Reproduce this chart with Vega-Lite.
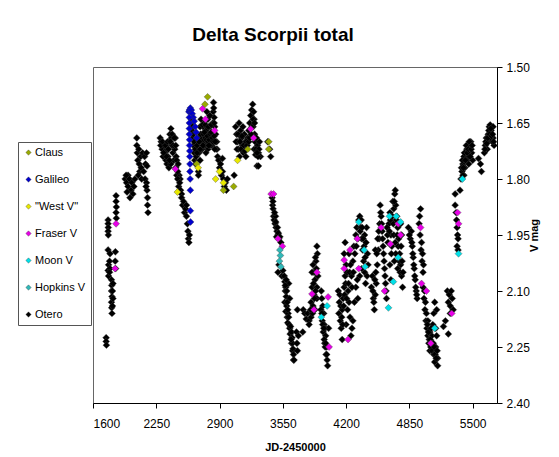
{
"$schema": "https://vega.github.io/schema/vega-lite/v6.json",
"width": 404, "height": 336,
"autosize": {"type": "none"},
"padding": {"left": 93, "top": 67, "right": 62, "bottom": 54},
"background": "white",
"title": {"text": "Delta Scorpii total", "font": "Liberation Sans", "fontSize": 19, "fontWeight": "bold", "color": "#000", "anchor": "middle", "dx": -22, "offset": 16},
"config": {"view": {"stroke": "#666", "strokeWidth": 1}, "font": "Liberation Sans"},
"data": {"values": [
{"jd":1735,"mag":2.225,"obs":"Otero"},{"jd":1735,"mag":2.235,"obs":"Otero"},{"jd":1738,"mag":2.245,"obs":"Otero"},
{"jd":1755,"mag":1.91,"obs":"Otero"},{"jd":1755,"mag":1.92,"obs":"Otero"},{"jd":1757,"mag":1.93,"obs":"Otero"},{"jd":1755,"mag":1.94,"obs":"Otero"},{"jd":1757,"mag":1.95,"obs":"Otero"},
{"jd":1755,"mag":1.99,"obs":"Otero"},{"jd":1760,"mag":2.03,"obs":"Otero"},{"jd":1755,"mag":2.045,"obs":"Otero"},{"jd":1760,"mag":2.06,"obs":"Otero"},
{"jd":1775,"mag":2.0,"obs":"Otero"},{"jd":1770,"mag":2.02,"obs":"Otero"},{"jd":1775,"mag":2.04,"obs":"Otero"},{"jd":1770,"mag":2.05,"obs":"Otero"},
{"jd":1790,"mag":2.07,"obs":"Otero"},{"jd":1792,"mag":2.085,"obs":"Otero"},{"jd":1790,"mag":2.1,"obs":"Otero"},{"jd":1795,"mag":2.115,"obs":"Otero"},{"jd":1790,"mag":2.13,"obs":"Otero"},{"jd":1792,"mag":2.145,"obs":"Otero"},{"jd":1795,"mag":2.16,"obs":"Otero"},
{"jd":1805,"mag":2.08,"obs":"Otero"},{"jd":1800,"mag":2.1,"obs":"Otero"},{"jd":1805,"mag":2.12,"obs":"Otero"},{"jd":1800,"mag":2.14,"obs":"Otero"},
{"jd":1830,"mag":1.995,"obs":"Otero"},{"jd":1828,"mag":2.02,"obs":"Otero"},{"jd":1832,"mag":2.04,"obs":"Otero"},
{"jd":1837,"mag":1.845,"obs":"Otero"},{"jd":1837,"mag":1.86,"obs":"Otero"},{"jd":1840,"mag":1.875,"obs":"Otero"},{"jd":1837,"mag":1.89,"obs":"Otero"},{"jd":1840,"mag":1.905,"obs":"Otero"},
{"jd":1930,"mag":1.8,"obs":"Otero"},{"jd":1945,"mag":1.81,"obs":"Otero"},{"jd":1960,"mag":1.79,"obs":"Otero"},{"jd":1960,"mag":1.82,"obs":"Otero"},{"jd":1975,"mag":1.8,"obs":"Otero"},{"jd":1990,"mag":1.83,"obs":"Otero"},{"jd":2000,"mag":1.81,"obs":"Otero"},{"jd":2010,"mag":1.84,"obs":"Otero"},{"jd":2020,"mag":1.82,"obs":"Otero"},{"jd":1950,"mag":1.835,"obs":"Otero"},{"jd":1980,"mag":1.85,"obs":"Otero"},{"jd":2030,"mag":1.8,"obs":"Otero"},{"jd":1940,"mag":1.79,"obs":"Otero"},
{"jd":2050,"mag":1.69,"obs":"Otero"},{"jd":2050,"mag":1.71,"obs":"Otero"},{"jd":2055,"mag":1.73,"obs":"Otero"},{"jd":2060,"mag":1.75,"obs":"Otero"},{"jd":2070,"mag":1.72,"obs":"Otero"},{"jd":2075,"mag":1.76,"obs":"Otero"},{"jd":2080,"mag":1.78,"obs":"Otero"},{"jd":2090,"mag":1.74,"obs":"Otero"},{"jd":2095,"mag":1.77,"obs":"Otero"},{"jd":2100,"mag":1.8,"obs":"Otero"},{"jd":2065,"mag":1.79,"obs":"Otero"},
{"jd":2110,"mag":1.73,"obs":"Otero"},{"jd":2130,"mag":1.74,"obs":"Otero"},{"jd":2150,"mag":1.73,"obs":"Otero"},{"jd":2140,"mag":1.76,"obs":"Otero"},{"jd":2155,"mag":1.765,"obs":"Otero"},{"jd":2120,"mag":1.78,"obs":"Otero"},{"jd":2135,"mag":1.8,"obs":"Otero"},
{"jd":2150,"mag":1.81,"obs":"Otero"},{"jd":2155,"mag":1.83,"obs":"Otero"},{"jd":2160,"mag":1.85,"obs":"Otero"},{"jd":2160,"mag":1.87,"obs":"Otero"},{"jd":2165,"mag":1.89,"obs":"Otero"},{"jd":2145,"mag":1.82,"obs":"Otero"},
{"jd":2290,"mag":1.69,"obs":"Otero"},{"jd":2300,"mag":1.7,"obs":"Otero"},{"jd":2310,"mag":1.72,"obs":"Otero"},{"jd":2320,"mag":1.74,"obs":"Otero"},{"jd":2330,"mag":1.71,"obs":"Otero"},{"jd":2340,"mag":1.73,"obs":"Otero"},{"jd":2350,"mag":1.75,"obs":"Otero"},{"jd":2360,"mag":1.72,"obs":"Otero"},{"jd":2370,"mag":1.74,"obs":"Otero"},{"jd":2380,"mag":1.7,"obs":"Otero"},{"jd":2390,"mag":1.68,"obs":"Otero"},{"jd":2400,"mag":1.665,"obs":"Otero"},{"jd":2405,"mag":1.69,"obs":"Otero"},{"jd":2410,"mag":1.71,"obs":"Otero"},{"jd":2420,"mag":1.73,"obs":"Otero"},{"jd":2430,"mag":1.75,"obs":"Otero"},{"jd":2440,"mag":1.72,"obs":"Otero"},{"jd":2445,"mag":1.69,"obs":"Otero"},{"jd":2455,"mag":1.74,"obs":"Otero"},{"jd":2360,"mag":1.76,"obs":"Otero"},{"jd":2380,"mag":1.77,"obs":"Otero"},{"jd":2400,"mag":1.76,"obs":"Otero"},{"jd":2415,"mag":1.68,"obs":"Otero"},
{"jd":2295,"mag":1.71,"obs":"Otero"},{"jd":2315,"mag":1.7,"obs":"Otero"},{"jd":2325,"mag":1.73,"obs":"Otero"},{"jd":2345,"mag":1.71,"obs":"Otero"},{"jd":2355,"mag":1.74,"obs":"Otero"},{"jd":2365,"mag":1.7,"obs":"Otero"},{"jd":2375,"mag":1.72,"obs":"Otero"},{"jd":2385,"mag":1.75,"obs":"Otero"},{"jd":2395,"mag":1.7,"obs":"Otero"},{"jd":2425,"mag":1.71,"obs":"Otero"},{"jd":2435,"mag":1.69,"obs":"Otero"},{"jd":2450,"mag":1.71,"obs":"Otero"},{"jd":2460,"mag":1.75,"obs":"Otero"},{"jd":2475,"mag":1.76,"obs":"Otero"},{"jd":2485,"mag":1.79,"obs":"Otero"},{"jd":2495,"mag":1.8,"obs":"Otero"},
{"jd":2450,"mag":1.77,"obs":"Otero"},{"jd":2460,"mag":1.79,"obs":"Otero"},{"jd":2470,"mag":1.8,"obs":"Otero"},{"jd":2480,"mag":1.82,"obs":"Otero"},{"jd":2490,"mag":1.81,"obs":"Otero"},{"jd":2500,"mag":1.83,"obs":"Otero"},{"jd":2510,"mag":1.84,"obs":"Otero"},{"jd":2470,"mag":1.78,"obs":"Otero"},
{"jd":2510,"mag":1.85,"obs":"Otero"},{"jd":2520,"mag":1.87,"obs":"Otero"},{"jd":2530,"mag":1.86,"obs":"Otero"},{"jd":2540,"mag":1.89,"obs":"Otero"},{"jd":2550,"mag":1.88,"obs":"Otero"},{"jd":2560,"mag":1.9,"obs":"Otero"},{"jd":2570,"mag":1.92,"obs":"Otero"},{"jd":2575,"mag":1.94,"obs":"Otero"},{"jd":2580,"mag":1.96,"obs":"Otero"},{"jd":2590,"mag":1.95,"obs":"Otero"},{"jd":2585,"mag":1.97,"obs":"Otero"},{"jd":2560,"mag":1.87,"obs":"Otero"},
{"jd":2610,"mag":1.64,"obs":"Otero"},{"jd":2620,"mag":1.65,"obs":"Otero"},{"jd":2615,"mag":1.67,"obs":"Otero"},{"jd":2625,"mag":1.69,"obs":"Otero"},{"jd":2630,"mag":1.71,"obs":"Otero"},{"jd":2640,"mag":1.73,"obs":"Otero"},{"jd":2645,"mag":1.75,"obs":"Otero"},{"jd":2655,"mag":1.76,"obs":"Otero"},
{"jd":2620,"mag":1.66,"obs":"Otero"},{"jd":2630,"mag":1.68,"obs":"Otero"},{"jd":2640,"mag":1.7,"obs":"Otero"},{"jd":2650,"mag":1.72,"obs":"Otero"},{"jd":2660,"mag":1.74,"obs":"Otero"},{"jd":2670,"mag":1.71,"obs":"Otero"},{"jd":2680,"mag":1.69,"obs":"Otero"},{"jd":2690,"mag":1.73,"obs":"Otero"},{"jd":2700,"mag":1.75,"obs":"Otero"},{"jd":2683,"mag":1.78,"obs":"Otero"},{"jd":2683,"mag":1.79,"obs":"Otero"},{"jd":2710,"mag":1.7,"obs":"Otero"},{"jd":2720,"mag":1.68,"obs":"Otero"},{"jd":2730,"mag":1.66,"obs":"Otero"},{"jd":2740,"mag":1.69,"obs":"Otero"},{"jd":2750,"mag":1.71,"obs":"Otero"},{"jd":2760,"mag":1.67,"obs":"Otero"},{"jd":2770,"mag":1.7,"obs":"Otero"},{"jd":2780,"mag":1.72,"obs":"Otero"},{"jd":2790,"mag":1.68,"obs":"Otero"},{"jd":2800,"mag":1.66,"obs":"Otero"},{"jd":2810,"mag":1.69,"obs":"Otero"},{"jd":2820,"mag":1.71,"obs":"Otero"},{"jd":2830,"mag":1.65,"obs":"Otero"},{"jd":2835,"mag":1.62,"obs":"Otero"},{"jd":2838,"mag":1.595,"obs":"Otero"},{"jd":2840,"mag":1.61,"obs":"Otero"},{"jd":2845,"mag":1.635,"obs":"Otero"},{"jd":2850,"mag":1.66,"obs":"Otero"},{"jd":2860,"mag":1.68,"obs":"Otero"},{"jd":2870,"mag":1.7,"obs":"Otero"},{"jd":2875,"mag":1.72,"obs":"Otero"},{"jd":2880,"mag":1.74,"obs":"Otero"},{"jd":2720,"mag":1.72,"obs":"Otero"},{"jd":2760,"mag":1.73,"obs":"Otero"},{"jd":2800,"mag":1.71,"obs":"Otero"},{"jd":2740,"mag":1.65,"obs":"Otero"},{"jd":2780,"mag":1.64,"obs":"Otero"},{"jd":2700,"mag":1.66,"obs":"Otero"},{"jd":2710,"mag":1.64,"obs":"Otero"},{"jd":2770,"mag":1.62,"obs":"Otero"},{"jd":2800,"mag":1.63,"obs":"Otero"},
{"jd":2705,"mag":1.68,"obs":"Otero"},{"jd":2715,"mag":1.695,"obs":"Otero"},{"jd":2725,"mag":1.7,"obs":"Otero"},{"jd":2735,"mag":1.68,"obs":"Otero"},{"jd":2745,"mag":1.675,"obs":"Otero"},{"jd":2755,"mag":1.69,"obs":"Otero"},{"jd":2765,"mag":1.695,"obs":"Otero"},{"jd":2775,"mag":1.685,"obs":"Otero"},{"jd":2785,"mag":1.7,"obs":"Otero"},{"jd":2795,"mag":1.695,"obs":"Otero"},{"jd":2805,"mag":1.68,"obs":"Otero"},{"jd":2815,"mag":1.675,"obs":"Otero"},{"jd":2825,"mag":1.69,"obs":"Otero"},{"jd":2835,"mag":1.7,"obs":"Otero"},{"jd":2845,"mag":1.685,"obs":"Otero"},{"jd":2855,"mag":1.7,"obs":"Otero"},{"jd":2865,"mag":1.72,"obs":"Otero"},{"jd":2725,"mag":1.655,"obs":"Otero"},{"jd":2755,"mag":1.655,"obs":"Otero"},{"jd":2785,"mag":1.66,"obs":"Otero"},{"jd":2815,"mag":1.655,"obs":"Otero"},{"jd":2845,"mag":1.65,"obs":"Otero"},{"jd":2690,"mag":1.7,"obs":"Otero"},{"jd":2670,"mag":1.73,"obs":"Otero"},{"jd":2700,"mag":1.72,"obs":"Otero"},{"jd":2730,"mag":1.71,"obs":"Otero"},{"jd":2790,"mag":1.71,"obs":"Otero"},{"jd":2850,"mag":1.72,"obs":"Otero"},
{"jd":2890,"mag":1.75,"obs":"Otero"},{"jd":2900,"mag":1.77,"obs":"Otero"},{"jd":2910,"mag":1.76,"obs":"Otero"},{"jd":2920,"mag":1.79,"obs":"Otero"},{"jd":2930,"mag":1.78,"obs":"Otero"},{"jd":2940,"mag":1.8,"obs":"Otero"},{"jd":2950,"mag":1.82,"obs":"Otero"},{"jd":2960,"mag":1.81,"obs":"Otero"},{"jd":2970,"mag":1.83,"obs":"Otero"},{"jd":2980,"mag":1.8,"obs":"Otero"},{"jd":2930,"mag":1.745,"obs":"Otero"},
{"jd":3050,"mag":1.79,"obs":"Otero"},
{"jd":3065,"mag":1.66,"obs":"Otero"},{"jd":3075,"mag":1.68,"obs":"Otero"},{"jd":3085,"mag":1.7,"obs":"Otero"},{"jd":3095,"mag":1.72,"obs":"Otero"},{"jd":3105,"mag":1.74,"obs":"Otero"},{"jd":3115,"mag":1.67,"obs":"Otero"},{"jd":3125,"mag":1.69,"obs":"Otero"},{"jd":3135,"mag":1.71,"obs":"Otero"},{"jd":3145,"mag":1.73,"obs":"Otero"},{"jd":3155,"mag":1.68,"obs":"Otero"},{"jd":3165,"mag":1.7,"obs":"Otero"},{"jd":3170,"mag":1.74,"obs":"Otero"},{"jd":3180,"mag":1.72,"obs":"Otero"},{"jd":3190,"mag":1.69,"obs":"Otero"},{"jd":3200,"mag":1.67,"obs":"Otero"},{"jd":3210,"mag":1.65,"obs":"Otero"},{"jd":3220,"mag":1.63,"obs":"Otero"},{"jd":3230,"mag":1.615,"obs":"Otero"},{"jd":3240,"mag":1.6,"obs":"Otero"},{"jd":3250,"mag":1.62,"obs":"Otero"},{"jd":3255,"mag":1.64,"obs":"Otero"},{"jd":3245,"mag":1.66,"obs":"Otero"},{"jd":3260,"mag":1.68,"obs":"Otero"},{"jd":3265,"mag":1.7,"obs":"Otero"},{"jd":3255,"mag":1.72,"obs":"Otero"},{"jd":3270,"mag":1.735,"obs":"Otero"},{"jd":3280,"mag":1.69,"obs":"Otero"},{"jd":3290,"mag":1.71,"obs":"Otero"},{"jd":3300,"mag":1.73,"obs":"Otero"},{"jd":3310,"mag":1.7,"obs":"Otero"},{"jd":3320,"mag":1.74,"obs":"Otero"},{"jd":3100,"mag":1.65,"obs":"Otero"},
{"jd":3070,"mag":1.7,"obs":"Otero"},{"jd":3080,"mag":1.72,"obs":"Otero"},{"jd":3090,"mag":1.68,"obs":"Otero"},{"jd":3110,"mag":1.7,"obs":"Otero"},{"jd":3120,"mag":1.72,"obs":"Otero"},{"jd":3130,"mag":1.685,"obs":"Otero"},{"jd":3140,"mag":1.66,"obs":"Otero"},{"jd":3150,"mag":1.71,"obs":"Otero"},{"jd":3160,"mag":1.725,"obs":"Otero"},{"jd":3175,"mag":1.7,"obs":"Otero"},{"jd":3185,"mag":1.71,"obs":"Otero"},{"jd":3200,"mag":1.7,"obs":"Otero"},{"jd":3210,"mag":1.69,"obs":"Otero"},{"jd":3225,"mag":1.68,"obs":"Otero"},{"jd":3235,"mag":1.66,"obs":"Otero"},{"jd":3245,"mag":1.64,"obs":"Otero"},{"jd":3260,"mag":1.65,"obs":"Otero"},{"jd":3275,"mag":1.72,"obs":"Otero"},{"jd":3295,"mag":1.74,"obs":"Otero"},{"jd":3305,"mag":1.72,"obs":"Otero"},{"jd":3285,"mag":1.73,"obs":"Otero"},
{"jd":3285,"mag":1.765,"obs":"Otero"},{"jd":3300,"mag":1.765,"obs":"Otero"},{"jd":3395,"mag":1.7,"obs":"Otero"},{"jd":3425,"mag":1.74,"obs":"Otero"},{"jd":3415,"mag":1.72,"obs":"Otero"},
{"jd":3440,"mag":1.85,"obs":"Otero"},{"jd":3445,"mag":1.87,"obs":"Otero"},{"jd":3450,"mag":1.88,"obs":"Otero"},{"jd":3455,"mag":1.9,"obs":"Otero"},{"jd":3460,"mag":1.91,"obs":"Otero"},{"jd":3470,"mag":1.92,"obs":"Otero"},{"jd":3480,"mag":1.93,"obs":"Otero"},{"jd":3490,"mag":1.94,"obs":"Otero"},{"jd":3500,"mag":1.95,"obs":"Otero"},{"jd":3510,"mag":1.96,"obs":"Otero"},{"jd":3475,"mag":1.9,"obs":"Otero"},{"jd":3485,"mag":1.955,"obs":"Otero"},{"jd":3530,"mag":1.97,"obs":"Otero"},{"jd":3510,"mag":2.03,"obs":"Otero"},{"jd":3500,"mag":2.05,"obs":"Otero"},
{"jd":3448,"mag":1.86,"obs":"Otero"},{"jd":3465,"mag":1.89,"obs":"Otero"},{"jd":3478,"mag":1.915,"obs":"Otero"},{"jd":3495,"mag":1.93,"obs":"Otero"},{"jd":3505,"mag":1.945,"obs":"Otero"},{"jd":3520,"mag":1.955,"obs":"Otero"},{"jd":3540,"mag":2.06,"obs":"Otero"},{"jd":3550,"mag":2.045,"obs":"Otero"},
{"jd":3565,"mag":2.06,"obs":"Otero"},{"jd":3570,"mag":2.075,"obs":"Otero"},{"jd":3580,"mag":2.09,"obs":"Otero"},{"jd":3575,"mag":2.1,"obs":"Otero"},{"jd":3585,"mag":2.115,"obs":"Otero"},{"jd":3570,"mag":2.13,"obs":"Otero"},{"jd":3590,"mag":2.14,"obs":"Otero"},{"jd":3580,"mag":2.155,"obs":"Otero"},{"jd":3595,"mag":2.17,"obs":"Otero"},{"jd":3600,"mag":2.185,"obs":"Otero"},{"jd":3610,"mag":2.08,"obs":"Otero"},{"jd":3620,"mag":2.12,"obs":"Otero"},{"jd":3605,"mag":2.16,"obs":"Otero"},
{"jd":3575,"mag":2.085,"obs":"Otero"},{"jd":3585,"mag":2.07,"obs":"Otero"},{"jd":3590,"mag":2.1,"obs":"Otero"},{"jd":3595,"mag":2.13,"obs":"Otero"},{"jd":3600,"mag":2.15,"obs":"Otero"},{"jd":3610,"mag":2.17,"obs":"Otero"},{"jd":3615,"mag":2.19,"obs":"Otero"},{"jd":3620,"mag":2.2,"obs":"Otero"},{"jd":3625,"mag":2.215,"obs":"Otero"},{"jd":3640,"mag":2.24,"obs":"Otero"},{"jd":3650,"mag":2.26,"obs":"Otero"},{"jd":3660,"mag":2.285,"obs":"Otero"},
{"jd":3630,"mag":2.195,"obs":"Otero"},{"jd":3640,"mag":2.21,"obs":"Otero"},{"jd":3645,"mag":2.225,"obs":"Otero"},{"jd":3650,"mag":2.24,"obs":"Otero"},{"jd":3655,"mag":2.255,"obs":"Otero"},{"jd":3660,"mag":2.27,"obs":"Otero"},{"jd":3665,"mag":2.285,"obs":"Otero"},{"jd":3635,"mag":2.23,"obs":"Otero"},
{"jd":3700,"mag":2.15,"obs":"Otero"},{"jd":3690,"mag":2.21,"obs":"Otero"},{"jd":3695,"mag":2.24,"obs":"Otero"},{"jd":3700,"mag":2.26,"obs":"Otero"},{"jd":3710,"mag":2.22,"obs":"Otero"},
{"jd":3760,"mag":2.15,"obs":"Otero"},{"jd":3775,"mag":2.16,"obs":"Otero"},{"jd":3790,"mag":2.175,"obs":"Otero"},{"jd":3805,"mag":2.16,"obs":"Otero"},{"jd":3820,"mag":2.18,"obs":"Otero"},{"jd":3755,"mag":2.21,"obs":"Otero"},
{"jd":3900,"mag":1.98,"obs":"Otero"},{"jd":3905,"mag":2.0,"obs":"Otero"},{"jd":3890,"mag":2.02,"obs":"Otero"},{"jd":3860,"mag":2.03,"obs":"Otero"},{"jd":3870,"mag":2.05,"obs":"Otero"},{"jd":3880,"mag":2.07,"obs":"Otero"},{"jd":3850,"mag":2.09,"obs":"Otero"},{"jd":3900,"mag":2.09,"obs":"Otero"},{"jd":3870,"mag":2.11,"obs":"Otero"},{"jd":3840,"mag":2.13,"obs":"Otero"},{"jd":3860,"mag":2.14,"obs":"Otero"},{"jd":3880,"mag":2.15,"obs":"Otero"},{"jd":3840,"mag":2.17,"obs":"Otero"},{"jd":3820,"mag":2.19,"obs":"Otero"},{"jd":3900,"mag":2.12,"obs":"Otero"},{"jd":3910,"mag":2.06,"obs":"Otero"},
{"jd":3850,"mag":2.05,"obs":"Otero"},{"jd":3865,"mag":2.08,"obs":"Otero"},{"jd":3875,"mag":2.12,"obs":"Otero"},{"jd":3885,"mag":2.1,"obs":"Otero"},{"jd":3895,"mag":2.04,"obs":"Otero"},{"jd":3855,"mag":2.16,"obs":"Otero"},{"jd":3835,"mag":2.15,"obs":"Otero"},{"jd":3885,"mag":2.01,"obs":"Otero"},
{"jd":3945,"mag":2.1,"obs":"Otero"},{"jd":3950,"mag":2.12,"obs":"Otero"},{"jd":3960,"mag":2.14,"obs":"Otero"},{"jd":3970,"mag":2.16,"obs":"Otero"},{"jd":3955,"mag":2.18,"obs":"Otero"},{"jd":3975,"mag":2.19,"obs":"Otero"},{"jd":3985,"mag":2.2,"obs":"Otero"},{"jd":3965,"mag":2.21,"obs":"Otero"},{"jd":3990,"mag":2.22,"obs":"Otero"},{"jd":3980,"mag":2.24,"obs":"Otero"},{"jd":4000,"mag":2.25,"obs":"Otero"},{"jd":3995,"mag":2.27,"obs":"Otero"},{"jd":4005,"mag":2.285,"obs":"Otero"},{"jd":4010,"mag":2.3,"obs":"Otero"},{"jd":3940,"mag":2.15,"obs":"Otero"},{"jd":4020,"mag":2.2,"obs":"Otero"},
{"jd":3950,"mag":2.16,"obs":"Otero"},{"jd":3960,"mag":2.19,"obs":"Otero"},{"jd":3970,"mag":2.2,"obs":"Otero"},{"jd":3975,"mag":2.23,"obs":"Otero"},{"jd":3985,"mag":2.25,"obs":"Otero"},{"jd":3990,"mag":2.24,"obs":"Otero"},{"jd":4000,"mag":2.27,"obs":"Otero"},
{"jd":4120,"mag":2.1,"obs":"Otero"},{"jd":4130,"mag":2.13,"obs":"Otero"},{"jd":4125,"mag":2.16,"obs":"Otero"},{"jd":4140,"mag":2.18,"obs":"Otero"},{"jd":4150,"mag":2.2,"obs":"Otero"},{"jd":4160,"mag":2.15,"obs":"Otero"},{"jd":4170,"mag":2.12,"obs":"Otero"},{"jd":4180,"mag":2.09,"obs":"Otero"},{"jd":4190,"mag":2.06,"obs":"Otero"},{"jd":4200,"mag":2.03,"obs":"Otero"},{"jd":4180,"mag":2.0,"obs":"Otero"},{"jd":4190,"mag":1.97,"obs":"Otero"},{"jd":4210,"mag":2.05,"obs":"Otero"},{"jd":4220,"mag":2.1,"obs":"Otero"},{"jd":4230,"mag":2.13,"obs":"Otero"},{"jd":4240,"mag":2.17,"obs":"Otero"},{"jd":4250,"mag":2.22,"obs":"Otero"},{"jd":4255,"mag":2.06,"obs":"Otero"},{"jd":4270,"mag":2.02,"obs":"Otero"},{"jd":4280,"mag":1.98,"obs":"Otero"},{"jd":4300,"mag":1.95,"obs":"Otero"},{"jd":4310,"mag":1.93,"obs":"Otero"},{"jd":4330,"mag":1.91,"obs":"Otero"},{"jd":4340,"mag":1.9,"obs":"Otero"},{"jd":4350,"mag":1.93,"obs":"Otero"},{"jd":4360,"mag":1.96,"obs":"Otero"},{"jd":4370,"mag":1.99,"obs":"Otero"},{"jd":4380,"mag":2.02,"obs":"Otero"},{"jd":4390,"mag":2.05,"obs":"Otero"},{"jd":4400,"mag":2.08,"obs":"Otero"},{"jd":4390,"mag":1.95,"obs":"Otero"},{"jd":4410,"mag":1.93,"obs":"Otero"},{"jd":4420,"mag":2.0,"obs":"Otero"},{"jd":4425,"mag":2.03,"obs":"Otero"},{"jd":4300,"mag":2.09,"obs":"Otero"},{"jd":4320,"mag":2.12,"obs":"Otero"},{"jd":4340,"mag":2.06,"obs":"Otero"},{"jd":4360,"mag":2.04,"obs":"Otero"},{"jd":4230,"mag":2.0,"obs":"Otero"},{"jd":4270,"mag":2.18,"obs":"Otero"},{"jd":4160,"mag":2.23,"obs":"Otero"},{"jd":4200,"mag":2.19,"obs":"Otero"},
{"jd":4135,"mag":2.11,"obs":"Otero"},{"jd":4145,"mag":2.14,"obs":"Otero"},{"jd":4155,"mag":2.17,"obs":"Otero"},{"jd":4165,"mag":2.19,"obs":"Otero"},{"jd":4175,"mag":2.14,"obs":"Otero"},{"jd":4185,"mag":2.11,"obs":"Otero"},{"jd":4195,"mag":2.08,"obs":"Otero"},{"jd":4205,"mag":2.12,"obs":"Otero"},{"jd":4215,"mag":2.15,"obs":"Otero"},{"jd":4225,"mag":2.08,"obs":"Otero"},{"jd":4235,"mag":2.05,"obs":"Otero"},{"jd":4245,"mag":2.03,"obs":"Otero"},{"jd":4260,"mag":2.09,"obs":"Otero"},{"jd":4275,"mag":2.05,"obs":"Otero"},{"jd":4290,"mag":2.0,"obs":"Otero"},{"jd":4305,"mag":1.98,"obs":"Otero"},{"jd":4320,"mag":1.96,"obs":"Otero"},{"jd":4345,"mag":1.94,"obs":"Otero"},{"jd":4355,"mag":1.91,"obs":"Otero"},{"jd":4365,"mag":1.93,"obs":"Otero"},{"jd":4375,"mag":1.96,"obs":"Otero"},{"jd":4385,"mag":1.98,"obs":"Otero"},{"jd":4395,"mag":2.01,"obs":"Otero"},{"jd":4405,"mag":1.97,"obs":"Otero"},{"jd":4415,"mag":2.06,"obs":"Otero"},{"jd":4315,"mag":2.07,"obs":"Otero"},{"jd":4285,"mag":2.13,"obs":"Otero"},{"jd":4260,"mag":2.2,"obs":"Otero"},
{"jd":4460,"mag":2.09,"obs":"Otero"},{"jd":4470,"mag":2.06,"obs":"Otero"},{"jd":4480,"mag":2.12,"obs":"Otero"},{"jd":4490,"mag":2.15,"obs":"Otero"},{"jd":4500,"mag":2.11,"obs":"Otero"},{"jd":4510,"mag":2.08,"obs":"Otero"},{"jd":4520,"mag":2.03,"obs":"Otero"},{"jd":4530,"mag":1.99,"obs":"Otero"},{"jd":4540,"mag":1.96,"obs":"Otero"},{"jd":4545,"mag":1.92,"obs":"Otero"},{"jd":4550,"mag":1.87,"obs":"Otero"},{"jd":4560,"mag":1.9,"obs":"Otero"},{"jd":4570,"mag":1.94,"obs":"Otero"},{"jd":4580,"mag":1.98,"obs":"Otero"},{"jd":4590,"mag":2.02,"obs":"Otero"},{"jd":4600,"mag":2.06,"obs":"Otero"},{"jd":4610,"mag":2.1,"obs":"Otero"},{"jd":4500,"mag":1.99,"obs":"Otero"},
{"jd":4475,"mag":2.1,"obs":"Otero"},{"jd":4485,"mag":2.13,"obs":"Otero"},{"jd":4495,"mag":2.07,"obs":"Otero"},{"jd":4505,"mag":2.05,"obs":"Otero"},{"jd":4515,"mag":2.0,"obs":"Otero"},{"jd":4525,"mag":1.96,"obs":"Otero"},{"jd":4535,"mag":1.94,"obs":"Otero"},{"jd":4555,"mag":1.89,"obs":"Otero"},{"jd":4565,"mag":1.92,"obs":"Otero"},{"jd":4575,"mag":1.96,"obs":"Otero"},{"jd":4585,"mag":2.0,"obs":"Otero"},{"jd":4595,"mag":2.04,"obs":"Otero"},{"jd":4605,"mag":2.08,"obs":"Otero"},{"jd":4615,"mag":2.12,"obs":"Otero"},
{"jd":4640,"mag":1.92,"obs":"Otero"},{"jd":4650,"mag":1.89,"obs":"Otero"},{"jd":4660,"mag":1.95,"obs":"Otero"},{"jd":4670,"mag":1.98,"obs":"Otero"},{"jd":4680,"mag":1.86,"obs":"Otero"},{"jd":4690,"mag":1.88,"obs":"Otero"},{"jd":4700,"mag":1.84,"obs":"Otero"},{"jd":4705,"mag":1.83,"obs":"Otero"},{"jd":4710,"mag":1.87,"obs":"Otero"},{"jd":4720,"mag":1.9,"obs":"Otero"},{"jd":4730,"mag":1.93,"obs":"Otero"},{"jd":4740,"mag":1.96,"obs":"Otero"},{"jd":4750,"mag":2.0,"obs":"Otero"},{"jd":4760,"mag":2.03,"obs":"Otero"},{"jd":4770,"mag":2.06,"obs":"Otero"},{"jd":4780,"mag":2.09,"obs":"Otero"},{"jd":4690,"mag":1.95,"obs":"Otero"},{"jd":4710,"mag":2.0,"obs":"Otero"},{"jd":4730,"mag":2.04,"obs":"Otero"},{"jd":4650,"mag":2.03,"obs":"Otero"},{"jd":4660,"mag":2.07,"obs":"Otero"},{"jd":4620,"mag":1.93,"obs":"Otero"},{"jd":4630,"mag":1.97,"obs":"Otero"},{"jd":4760,"mag":1.92,"obs":"Otero"},{"jd":4770,"mag":1.95,"obs":"Otero"},
{"jd":4625,"mag":1.95,"obs":"Otero"},{"jd":4645,"mag":1.94,"obs":"Otero"},{"jd":4655,"mag":1.91,"obs":"Otero"},{"jd":4665,"mag":2.0,"obs":"Otero"},{"jd":4675,"mag":1.9,"obs":"Otero"},{"jd":4685,"mag":1.92,"obs":"Otero"},{"jd":4695,"mag":1.86,"obs":"Otero"},{"jd":4715,"mag":1.91,"obs":"Otero"},{"jd":4725,"mag":1.95,"obs":"Otero"},{"jd":4735,"mag":1.98,"obs":"Otero"},{"jd":4745,"mag":2.02,"obs":"Otero"},{"jd":4755,"mag":2.05,"obs":"Otero"},{"jd":4765,"mag":1.98,"obs":"Otero"},{"jd":4775,"mag":2.02,"obs":"Otero"},{"jd":4785,"mag":2.05,"obs":"Otero"},{"jd":4695,"mag":2.02,"obs":"Otero"},{"jd":4705,"mag":1.97,"obs":"Otero"},
{"jd":4840,"mag":1.93,"obs":"Otero"},{"jd":4860,"mag":1.96,"obs":"Otero"},{"jd":4870,"mag":1.94,"obs":"Otero"},{"jd":4880,"mag":1.98,"obs":"Otero"},{"jd":4890,"mag":2.01,"obs":"Otero"},{"jd":4900,"mag":2.04,"obs":"Otero"},{"jd":4910,"mag":2.07,"obs":"Otero"},{"jd":4920,"mag":2.1,"obs":"Otero"},{"jd":4930,"mag":2.12,"obs":"Otero"},{"jd":4965,"mag":1.88,"obs":"Otero"},{"jd":4950,"mag":1.92,"obs":"Otero"},{"jd":4960,"mag":1.95,"obs":"Otero"},{"jd":4970,"mag":1.99,"obs":"Otero"},{"jd":4980,"mag":2.02,"obs":"Otero"},{"jd":4990,"mag":2.05,"obs":"Otero"},
{"jd":4850,"mag":1.95,"obs":"Otero"},{"jd":4875,"mag":1.97,"obs":"Otero"},{"jd":4885,"mag":2.0,"obs":"Otero"},{"jd":4895,"mag":2.03,"obs":"Otero"},{"jd":4905,"mag":2.06,"obs":"Otero"},{"jd":4915,"mag":2.09,"obs":"Otero"},{"jd":4925,"mag":2.11,"obs":"Otero"},{"jd":4955,"mag":1.9,"obs":"Otero"},{"jd":4975,"mag":1.97,"obs":"Otero"},{"jd":4985,"mag":2.0,"obs":"Otero"},{"jd":4995,"mag":2.03,"obs":"Otero"},
{"jd":4990,"mag":2.09,"obs":"Otero"},{"jd":5000,"mag":2.12,"obs":"Otero"},{"jd":5010,"mag":2.15,"obs":"Otero"},{"jd":5020,"mag":2.18,"obs":"Otero"},{"jd":5030,"mag":2.2,"obs":"Otero"},{"jd":5040,"mag":2.22,"obs":"Otero"},{"jd":5050,"mag":2.24,"obs":"Otero"},{"jd":5060,"mag":2.26,"obs":"Otero"},{"jd":5070,"mag":2.25,"obs":"Otero"},{"jd":5080,"mag":2.22,"obs":"Otero"},{"jd":5090,"mag":2.19,"obs":"Otero"},{"jd":5100,"mag":2.16,"obs":"Otero"},{"jd":5110,"mag":2.13,"obs":"Otero"},{"jd":5085,"mag":2.26,"obs":"Otero"},{"jd":5100,"mag":2.27,"obs":"Otero"},{"jd":5110,"mag":2.29,"obs":"Otero"},{"jd":5120,"mag":2.25,"obs":"Otero"},{"jd":5130,"mag":2.22,"obs":"Otero"},{"jd":5140,"mag":2.28,"obs":"Otero"},{"jd":5140,"mag":2.3,"obs":"Otero"},{"jd":5060,"mag":2.21,"obs":"Otero"},{"jd":5040,"mag":2.18,"obs":"Otero"},{"jd":5130,"mag":2.15,"obs":"Otero"},
{"jd":5005,"mag":2.1,"obs":"Otero"},{"jd":5015,"mag":2.13,"obs":"Otero"},{"jd":5025,"mag":2.16,"obs":"Otero"},{"jd":5035,"mag":2.19,"obs":"Otero"},{"jd":5045,"mag":2.21,"obs":"Otero"},{"jd":5055,"mag":2.23,"obs":"Otero"},{"jd":5065,"mag":2.23,"obs":"Otero"},{"jd":5075,"mag":2.2,"obs":"Otero"},{"jd":5095,"mag":2.24,"obs":"Otero"},{"jd":5105,"mag":2.25,"obs":"Otero"},{"jd":5115,"mag":2.27,"obs":"Otero"},{"jd":5125,"mag":2.28,"obs":"Otero"},{"jd":5135,"mag":2.26,"obs":"Otero"},{"jd":5120,"mag":2.2,"obs":"Otero"},
{"jd":5200,"mag":2.195,"obs":"Otero"},{"jd":5220,"mag":2.18,"obs":"Otero"},{"jd":5250,"mag":2.215,"obs":"Otero"},
{"jd":5240,"mag":2.1,"obs":"Otero"},{"jd":5260,"mag":2.11,"obs":"Otero"},{"jd":5280,"mag":2.1,"obs":"Otero"},{"jd":5250,"mag":2.13,"obs":"Otero"},{"jd":5270,"mag":2.14,"obs":"Otero"},{"jd":5290,"mag":2.12,"obs":"Otero"},{"jd":5270,"mag":2.16,"obs":"Otero"},{"jd":5300,"mag":2.15,"obs":"Otero"},
{"jd":5320,"mag":1.84,"obs":"Otero"},{"jd":5320,"mag":1.87,"obs":"Otero"},{"jd":5330,"mag":1.89,"obs":"Otero"},{"jd":5335,"mag":1.91,"obs":"Otero"},{"jd":5340,"mag":1.93,"obs":"Otero"},{"jd":5345,"mag":1.95,"obs":"Otero"},{"jd":5350,"mag":1.96,"obs":"Otero"},{"jd":5340,"mag":1.98,"obs":"Otero"},{"jd":5350,"mag":1.99,"obs":"Otero"},{"jd":5370,"mag":1.83,"obs":"Otero"},
{"jd":5380,"mag":1.8,"obs":"Otero"},{"jd":5390,"mag":1.78,"obs":"Otero"},{"jd":5400,"mag":1.76,"obs":"Otero"},{"jd":5410,"mag":1.74,"obs":"Otero"},{"jd":5420,"mag":1.77,"obs":"Otero"},{"jd":5430,"mag":1.73,"obs":"Otero"},{"jd":5440,"mag":1.75,"obs":"Otero"},{"jd":5450,"mag":1.71,"obs":"Otero"},{"jd":5460,"mag":1.74,"obs":"Otero"},{"jd":5470,"mag":1.72,"obs":"Otero"},{"jd":5480,"mag":1.7,"obs":"Otero"},{"jd":5490,"mag":1.73,"obs":"Otero"},{"jd":5500,"mag":1.75,"obs":"Otero"},{"jd":5410,"mag":1.79,"obs":"Otero"},{"jd":5440,"mag":1.72,"obs":"Otero"},{"jd":5460,"mag":1.76,"obs":"Otero"},
{"jd":5385,"mag":1.77,"obs":"Otero"},{"jd":5395,"mag":1.75,"obs":"Otero"},{"jd":5405,"mag":1.77,"obs":"Otero"},{"jd":5415,"mag":1.73,"obs":"Otero"},{"jd":5425,"mag":1.75,"obs":"Otero"},{"jd":5435,"mag":1.71,"obs":"Otero"},{"jd":5445,"mag":1.73,"obs":"Otero"},{"jd":5455,"mag":1.72,"obs":"Otero"},{"jd":5465,"mag":1.7,"obs":"Otero"},{"jd":5475,"mag":1.74,"obs":"Otero"},{"jd":5485,"mag":1.72,"obs":"Otero"},{"jd":5495,"mag":1.71,"obs":"Otero"},{"jd":5400,"mag":1.79,"obs":"Otero"},
{"jd":5560,"mag":1.745,"obs":"Otero"},{"jd":5580,"mag":1.76,"obs":"Otero"},{"jd":5590,"mag":1.78,"obs":"Otero"},
{"jd":5620,"mag":1.73,"obs":"Otero"},{"jd":5630,"mag":1.71,"obs":"Otero"},{"jd":5640,"mag":1.69,"obs":"Otero"},{"jd":5650,"mag":1.72,"obs":"Otero"},{"jd":5660,"mag":1.68,"obs":"Otero"},{"jd":5670,"mag":1.66,"obs":"Otero"},{"jd":5680,"mag":1.655,"obs":"Otero"},{"jd":5690,"mag":1.67,"obs":"Otero"},{"jd":5700,"mag":1.7,"obs":"Otero"},{"jd":5710,"mag":1.69,"obs":"Otero"},{"jd":5720,"mag":1.71,"obs":"Otero"},{"jd":5650,"mag":1.7,"obs":"Otero"},{"jd":5680,"mag":1.69,"obs":"Otero"},{"jd":5710,"mag":1.66,"obs":"Otero"},
{"jd":5625,"mag":1.72,"obs":"Otero"},{"jd":5635,"mag":1.7,"obs":"Otero"},{"jd":5645,"mag":1.705,"obs":"Otero"},{"jd":5655,"mag":1.69,"obs":"Otero"},{"jd":5665,"mag":1.67,"obs":"Otero"},{"jd":5675,"mag":1.68,"obs":"Otero"},{"jd":5685,"mag":1.665,"obs":"Otero"},{"jd":5695,"mag":1.685,"obs":"Otero"},{"jd":5705,"mag":1.68,"obs":"Otero"},{"jd":5715,"mag":1.7,"obs":"Otero"},
{"jd":2585,"mag":1.62,"obs":"Galileo"},{"jd":2590,"mag":1.615,"obs":"Galileo"},{"jd":2600,"mag":1.61,"obs":"Galileo"},{"jd":2610,"mag":1.615,"obs":"Galileo"},{"jd":2620,"mag":1.625,"obs":"Galileo"},{"jd":2630,"mag":1.635,"obs":"Galileo"},{"jd":2640,"mag":1.645,"obs":"Galileo"},{"jd":2650,"mag":1.66,"obs":"Galileo"},{"jd":2660,"mag":1.675,"obs":"Galileo"},{"jd":2665,"mag":1.69,"obs":"Galileo"},{"jd":2590,"mag":1.635,"obs":"Galileo"},{"jd":2590,"mag":1.65,"obs":"Galileo"},{"jd":2590,"mag":1.665,"obs":"Galileo"},{"jd":2590,"mag":1.68,"obs":"Galileo"},{"jd":2592,"mag":1.695,"obs":"Galileo"},{"jd":2592,"mag":1.71,"obs":"Galileo"},{"jd":2594,"mag":1.725,"obs":"Galileo"},{"jd":2594,"mag":1.74,"obs":"Galileo"},{"jd":2596,"mag":1.76,"obs":"Galileo"},{"jd":2596,"mag":1.78,"obs":"Galileo"},{"jd":2598,"mag":1.8,"obs":"Galileo"},{"jd":2600,"mag":1.83,"obs":"Galileo"},{"jd":2600,"mag":1.885,"obs":"Galileo"},{"jd":2602,"mag":1.915,"obs":"Galileo"},
{"jd":2777,"mag":1.58,"obs":"Claus"},{"jd":2665,"mag":1.76,"obs":"Claus"},{"jd":3045,"mag":1.82,"obs":"Claus"},{"jd":3190,"mag":1.72,"obs":"Claus"},{"jd":3405,"mag":1.7,"obs":"Claus"},{"jd":3405,"mag":1.72,"obs":"Claus"},{"jd":2940,"mag":1.83,"obs":"Claus"},{"jd":2750,"mag":1.6,"obs":"Claus"},
{"jd":2467,"mag":1.835,"obs":"\"West V\""},{"jd":2680,"mag":1.77,"obs":"\"West V\""},{"jd":2860,"mag":1.8,"obs":"\"West V\""},{"jd":3085,"mag":1.75,"obs":"\"West V\""},{"jd":2900,"mag":1.78,"obs":"\"West V\""},{"jd":2940,"mag":1.81,"obs":"\"West V\""},
{"jd":1837,"mag":1.92,"obs":"Fraser V"},{"jd":1827,"mag":2.04,"obs":"Fraser V"},{"jd":2446,"mag":1.773,"obs":"Fraser V"},{"jd":2725,"mag":1.612,"obs":"Fraser V"},{"jd":2755,"mag":1.64,"obs":"Fraser V"},{"jd":2850,"mag":1.67,"obs":"Fraser V"},{"jd":3220,"mag":1.666,"obs":"Fraser V"},{"jd":3250,"mag":1.69,"obs":"Fraser V"},{"jd":3430,"mag":1.84,"obs":"Fraser V"},{"jd":3455,"mag":1.84,"obs":"Fraser V"},{"jd":3500,"mag":1.96,"obs":"Fraser V"},{"jd":3545,"mag":1.98,"obs":"Fraser V"},{"jd":3900,"mag":2.05,"obs":"Fraser V"},{"jd":3850,"mag":2.108,"obs":"Fraser V"},{"jd":3870,"mag":2.15,"obs":"Fraser V"},{"jd":4015,"mag":2.116,"obs":"Fraser V"},{"jd":4025,"mag":2.25,"obs":"Fraser V"},{"jd":4180,"mag":2.017,"obs":"Fraser V"},{"jd":4180,"mag":2.04,"obs":"Fraser V"},{"jd":4315,"mag":1.96,"obs":"Fraser V"},{"jd":4240,"mag":1.99,"obs":"Fraser V"},{"jd":4220,"mag":2.23,"obs":"Fraser V"},{"jd":4595,"mag":2.1,"obs":"Fraser V"},{"jd":4655,"mag":1.974,"obs":"Fraser V"},{"jd":4760,"mag":1.95,"obs":"Fraser V"},{"jd":4735,"mag":1.92,"obs":"Fraser V"},{"jd":4965,"mag":1.93,"obs":"Fraser V"},{"jd":5025,"mag":2.1,"obs":"Fraser V"},{"jd":5285,"mag":2.16,"obs":"Fraser V"},{"jd":5345,"mag":1.89,"obs":"Fraser V"},{"jd":5355,"mag":1.92,"obs":"Fraser V"},{"jd":4975,"mag":2.08,"obs":"Fraser V"},{"jd":4560,"mag":1.93,"obs":"Fraser V"},{"jd":4330,"mag":2.04,"obs":"Fraser V"},{"jd":5070,"mag":2.24,"obs":"Fraser V"},
{"jd":4005,"mag":2.14,"obs":"Moon V"},{"jd":4330,"mag":1.915,"obs":"Moon V"},{"jd":4385,"mag":1.99,"obs":"Moon V"},{"jd":4395,"mag":2.035,"obs":"Moon V"},{"jd":4645,"mag":1.9,"obs":"Moon V"},{"jd":4715,"mag":1.9,"obs":"Moon V"},{"jd":4760,"mag":1.915,"obs":"Moon V"},{"jd":4735,"mag":2.01,"obs":"Moon V"},{"jd":4685,"mag":2.075,"obs":"Moon V"},{"jd":4635,"mag":2.145,"obs":"Moon V"},{"jd":5110,"mag":2.2,"obs":"Moon V"},{"jd":5355,"mag":2.0,"obs":"Moon V"},{"jd":5395,"mag":1.8,"obs":"Moon V"},{"jd":3945,"mag":2.17,"obs":"Moon V"},
{"jd":3520,"mag":1.99,"obs":"Hopkins V"},{"jd":3525,"mag":2.005,"obs":"Hopkins V"},{"jd":3515,"mag":2.02,"obs":"Hopkins V"},{"jd":3530,"mag":2.035,"obs":"Hopkins V"}
]},
"mark": {"type": "point", "shape": "diamond", "filled": true, "size": 48, "opacity": 1, "stroke": "#444", "strokeWidth": 0.4},
"encoding": {
"x": {"field": "jd", "type": "quantitative", "scale": {"domain": [1600, 5750], "nice": false, "zero": false},
"axis": {"values": [1600, 2250, 2900, 3550, 4200, 4850, 5500], "format": "d", "title": "JD-2450000", "titleFontSize": 11, "titleFontWeight": "bold", "titleColor": "#000", "titlePadding": 12, "labelFontSize": 12, "labelColor": "#000", "labelPadding": 10, "grid": false, "domainColor": "#000", "tickColor": "#000", "tickSize": 5}},
"y": {"field": "mag", "type": "quantitative", "scale": {"domain": [1.5, 2.4], "reverse": true, "nice": false, "zero": false},
"axis": {"orient": "right", "values": [1.5, 1.65, 1.8, 1.95, 2.1, 2.25, 2.4], "format": ".2f", "title": "V mag", "titleAngle": 270, "titleFontSize": 11, "titleFontWeight": "bold", "titleColor": "#000", "titlePadding": 10, "labelFontSize": 12, "labelColor": "#000", "labelPadding": 4, "grid": false, "domainColor": "#000", "tickColor": "#000", "tickSize": 5}},
"color": {"field": "obs", "type": "nominal", "sort": null,
"scale": {"domain": ["Claus", "Galileo", "\"West V\"", "Fraser V", "Moon V", "Hopkins V", "Otero"], "range": ["#99AA00", "#0000CC", "#E8E800", "#E600E6", "#00E0E8", "#30B8B8", "#000000"]},
"legend": {"orient": "none", "legendX": -75, "legendY": 75, "title": null, "strokeColor": "#555", "fillColor": "white", "padding": 5, "rowPadding": 15, "labelFontSize": 11, "labelColor": "#000", "symbolSize": 28, "symbolOffset": 0, "labelOffset": 1, "symbolStrokeWidth": 0.4}}
}
}
